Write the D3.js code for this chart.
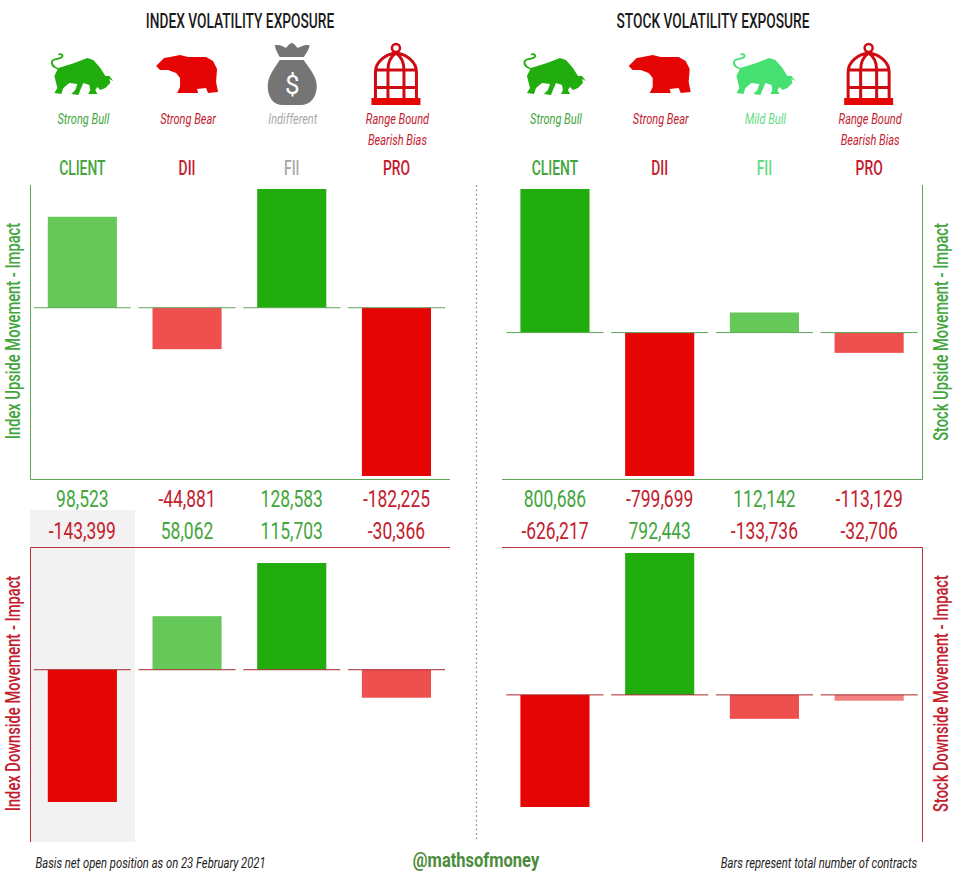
<!DOCTYPE html>
<html>
<head>
<meta charset="utf-8">
<script src="https://cdn.jsdelivr.net/npm/d3@7"></script>
<style>
html, body { margin: 0; padding: 0; background: #fff; }
svg { display: block; }
text { font-family: Roboto, "Liberation Sans", sans-serif; }
</style>
</head>
<body>
<div class="graph"></div>
<script>
//Data
var categories = ["CLIENT", "DII", "FII", "PRO"];

var indexUpside = [98523, -44881, 128583, -182225];
var indexDownside = [-143399, 58062, 115703, -30366];
var stockUpside = [800686, -799699, 112142, -113129];
var stockDownside = [-626217, 792443, -133736, -32706];

var indexViews = ["Strong Bull", "Strong Bear", "Indifferent", "Range Bound|Bearish Bias"];
var stockViews = ["Strong Bull", "Strong Bear", "Mild Bull", "Range Bound|Bearish Bias"];
var indexIcons = ["bull", "bear", "bag", "cage"];
var stockIcons = ["bull", "bear", "bull", "cage"];

//Colours
var GREEN = "#22ad0e", RED = "#e60505";
var MILD_GREEN = "#66c858", MILD_RED = "#ee5050", PALE_RED = "#f58080";
var TEXT_GREEN = "#42a63c", TEXT_RED = "#c4202e", TEXT_GREY = "#a9a9a9", TEXT_MINT = "#62dc84";
var LINE_GREEN = "#5fa558", LINE_RED = "#b8333c";

var width = 959, height = 880;

var svg = d3.select(".graph").append("svg")
    .attr("width", width)
    .attr("height", height);

//Column scales
var xLeft = d3.scaleBand().domain(categories).range([30, 448.8]).paddingInner(0.34).paddingOuter(0.17);
var xRight = d3.scaleBand().domain(categories).range([502.6, 921.5]).paddingInner(0.34).paddingOuter(0.17);

//Value scales, one for each panel
var yIndexUp = d3.scaleLinear().domain([-182225, 128583]).range([476, 189]);
var yStockUp = d3.scaleLinear().domain([-799699, 800686]).range([476, 189]);
var yIndexDown = d3.scaleLinear().domain([-143399, 115703]).range([802, 563]);
var yStockDown = d3.scaleLinear().domain([-626217, 792443]).range([807, 553]);

//Icon shapes, drawn around a reference column centre
var iconRef = {bull: 82, bear: 187, bag: 291, cage: 397};

function drawIcon(g, name, color){
    if(name == "bull"){
        g.append("path")
            .attr("fill", "none")
            .attr("stroke", color)
            .attr("stroke-width", 1.8)
            .attr("d", "M62,70 C56,69 51,66 51.5,62 C52,58 57,60 61,57.5 C64,55.5 61,53.5 58,54.5");
        g.append("path")
            .attr("fill", color)
            .attr("d", "M58,68 L74,63 L87,58 L93,60 L100,68 L105,76 L109,76 L113,81 L109,79 L110,83 L105,88 L100,90 L97,87 L95,90 L97,94 L88,94 L90,90 L89,85 L83,83 L80,90 L78,95 L71,94 L75,90 L77,84 L69,83 L63,88 L61,94 L54,93 L57,88 L56,84 L54,76 Z");
    }else if(name == "bear"){
        g.append("path")
            .attr("fill", color)
            .attr("d", "M156,66 L160,62 L164,58 L170,57 L180,55 L188,57 L206,57 L213,61 L217,69 L216,82 L218,92 L208,93 L206,88 L197,89 L198,93 L177,93 L180,87 L180,78 L176,73 L168,70 L160,70 Z");
    }else if(name == "bag"){
        g.append("path")
            .attr("fill", color)
            .attr("d", "M274,45.5 C279,44 283,47 285,48 C287,46 289,43 291,43 C293,43 295,46 297,48 C300,47 304,44 309,45.5 C308,50 305,54 303,57 L279,57 C277,54 275,50 274,45.5 Z");
        g.append("path")
            .attr("fill", color)
            .attr("d", "M279,60 L303,60 C308,68 316,76 316,86 C316,98 309,105 300,105 L282,105 C273,105 267,98 267,86 C267,76 274,68 279,60 Z");
        g.append("text")
            .attr("x", 291.5)
            .attr("y", 94)
            .attr("text-anchor", "middle")
            .attr("font-size", 26)
            .attr("fill", "#fff")
            .text("$");
    }else{
        g.append("rect")
            .attr("x", 372).attr("y", 98)
            .attr("width", 49).attr("height", 7)
            .attr("fill", RED);
        g.append("path")
            .attr("fill", "none")
            .attr("stroke", "#d00a12")
            .attr("stroke-width", 3)
            .attr("d", "M376,98 L376,72 C376,62 386,54 396.5,53 C407,54 417,62 417,72 L417,98"
                + " M388.5,98 L388.5,70 C388.5,62 392,56 396.5,53 C401,56 404.5,62 404.5,70 L404.5,98"
                + " M376,70 L417,70 M376,87.5 L417,87.5");
        g.append("circle")
            .attr("cx", 396.5).attr("cy", 48)
            .attr("r", 4)
            .attr("fill", "none")
            .attr("stroke", "#d00a12")
            .attr("stroke-width", 2.5);
    }
}

//Text squeezed sideways, the reference uses a condensed face
function narrowText(parent, x, y, str, size, k, color, weight, style, rotate){
    return parent.append("text")
        .attr("transform", "translate(" + x + "," + y + ")" + (rotate ? " rotate(-90)" : "") + " scale(" + k + ",1)")
        .attr("text-anchor", "middle")
        .attr("font-size", size)
        .attr("font-weight", weight || 400)
        .attr("font-style", style || "normal")
        .attr("fill", color)
        .text(str);
}

function viewColor(view){
    if(view == "Strong Bull") return TEXT_GREEN;
    if(view == "Mild Bull") return TEXT_MINT;
    if(view == "Indifferent") return TEXT_GREY;
    return TEXT_RED;
}

function iconColor(view){
    if(view == "Strong Bull") return GREEN;
    if(view == "Mild Bull") return "#45e070";
    if(view == "Indifferent") return "#757575";
    return RED;
}

function valueColor(d){
    return d < 0 ? TEXT_RED : TEXT_GREEN;
}

//Bar shade depends on its size against the largest bar of the panel
function barColor(d, values){
    var ratio = Math.abs(d) / d3.max(values, function(v){return Math.abs(v);});
    if(ratio >= 0.7) return d < 0 ? RED : GREEN;
    if(ratio >= 0.1) return d < 0 ? MILD_RED : MILD_GREEN;
    return PALE_RED;
}

//Grey band behind the client column of the lower index panel
svg.append("rect")
    .attr("x", 30).attr("y", 510)
    .attr("width", 105).attr("height", 332)
    .attr("fill", "#f2f2f2");

function drawBars(values, x, y, lineColor){
    var g = svg.append("g");

    g.selectAll("rect")
        .data(values)
        .join("rect")
        .attr("x", function(d, i){return x(categories[i]);})
        .attr("width", x.bandwidth())
        .attr("y", function(d){return Math.min(y(d), y(0));})
        .attr("height", function(d){return Math.abs(y(d) - y(0));})
        .attr("fill", function(d){return barColor(d, values);});

    g.selectAll("line")
        .data(values)
        .join("line")
        .attr("x1", function(d, i){return x(categories[i]) - 14;})
        .attr("x2", function(d, i){return x(categories[i]) + x.bandwidth() + 14;})
        .attr("y1", y(0))
        .attr("y2", y(0))
        .attr("stroke", lineColor)
        .attr("stroke-width", 1);
}

function drawHeader(title, titleX, x, views, icons){
    narrowText(svg, titleX, 28, title, 20.5, 0.67, "#1b1b1b", 500);

    categories.forEach(function(c, i){
        var cx = x(c) + x.bandwidth() / 2;
        var icon = svg.append("g")
            .attr("transform", "translate(" + (cx - iconRef[icons[i]]) + ",0)");
        drawIcon(icon, icons[i], iconColor(views[i]));

        views[i].split("|").forEach(function(line, j){
            narrowText(svg, cx + 1, 124 + j * 21, line, 14.5, 0.76, viewColor(views[i]), 400, "italic");
        });

        narrowText(svg, cx, 175, c, 21, 0.66, viewColor(views[i]), 500);
    });
}

function drawValues(values, x, y){
    var fmt = d3.format(",");
    categories.forEach(function(c, i){
        //the picture prints a plain hyphen, not d3's minus sign
        var label = fmt(values[i]).replace("\u2212", "-");
        narrowText(svg, x(c) + x.bandwidth() / 2, y, label, 23, 0.76, valueColor(values[i]));
    });
}

//Panel frames
function frame(d, color){
    svg.append("path")
        .attr("d", d)
        .attr("fill", "none")
        .attr("stroke", color)
        .attr("stroke-width", 1);
}

frame("M30.5,185 L30.5,479.5 L450,479.5", LINE_GREEN);
frame("M30.5,842 L30.5,547.5 L450,547.5", LINE_RED);
frame("M922.5,185 L922.5,479.5 L502,479.5", LINE_GREEN);
frame("M922.5,842 L922.5,547.5 L502,547.5", LINE_RED);

//Dotted divider
svg.append("line")
    .attr("x1", 476.5).attr("x2", 476.5)
    .attr("y1", 185).attr("y2", 842)
    .attr("stroke", "#9a9a9a")
    .attr("stroke-width", 1.2)
    .attr("stroke-dasharray", "2,2.5");

drawBars(indexUpside, xLeft, yIndexUp, LINE_GREEN);
drawBars(indexDownside, xLeft, yIndexDown, "#a8282c");
drawBars(stockUpside, xRight, yStockUp, LINE_GREEN);
drawBars(stockDownside, xRight, yStockDown, "#a8282c");

drawHeader("INDEX VOLATILITY EXPOSURE", 240, xLeft, indexViews, indexIcons);
drawHeader("STOCK VOLATILITY EXPOSURE", 713, xRight, stockViews, stockIcons);

drawValues(indexUpside, xLeft, 507);
drawValues(indexDownside, xLeft, 539);
drawValues(stockUpside, xRight, 507);
drawValues(stockDownside, xRight, 539);

narrowText(svg, 20, 331, "Index Upside Movement - Impact", 21, 0.7, TEXT_GREEN, 500, "normal", true);
narrowText(svg, 20, 693.5, "Index Downside Movement - Impact", 21, 0.7, TEXT_RED, 500, "normal", true);
narrowText(svg, 948, 332, "Stock Upside Movement - Impact", 21, 0.7, TEXT_GREEN, 500, "normal", true);
narrowText(svg, 948, 693.5, "Stock Downside Movement - Impact", 21, 0.7, TEXT_RED, 500, "normal", true);

//Footer
narrowText(svg, 150.5, 868, "Basis net open position as on 23 February 2021", 14.5, 0.775, "#222", 400, "italic");
narrowText(svg, 476, 867, "@mathsofmoney", 20, 0.825, "#4b8b3b", 700);
narrowText(svg, 819, 868, "Bars represent total number of contracts", 14.5, 0.775, "#222", 400, "italic");
</script>
</body>
</html>
